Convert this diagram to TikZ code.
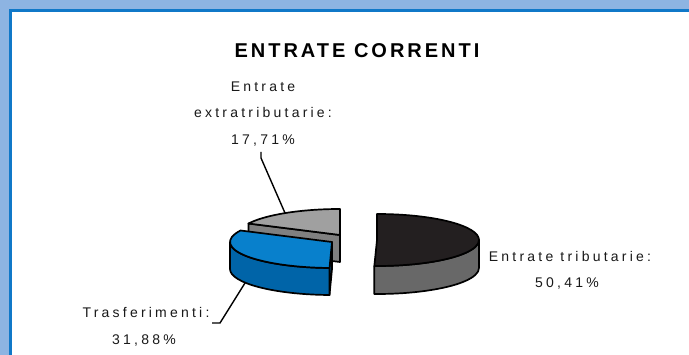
\documentclass[tikz,border=0pt]{standalone}
\usepackage{fontspec}
\setmainfont{Liberation Sans}
\newfontfamily\lblfont[LetterSpace=23]{Liberation Sans}
\newfontfamily\titlefont[LetterSpace=15]{Liberation Sans}
\definecolor{bgblue}{RGB}{141,180,226}
\definecolor{borderblue}{RGB}{16,120,200}
\definecolor{bluetop}{RGB}{8,128,204}
\definecolor{blueside}{RGB}{0,100,168}
\definecolor{graytop}{RGB}{160,160,160}
\definecolor{grayside}{RGB}{128,128,128}
\definecolor{darktop}{RGB}{35,31,32}
\definecolor{darkside}{RGB}{104,104,104}
\tikzset{
  slice/.style={draw=black, line width=1.7pt, line join=round},
  lbl/.style={anchor=base, inner sep=0pt, font=\lblfont\fontsize{14}{16}\selectfont, text=black!90},
  leader/.style={draw=black, line width=1.4pt}
}
\begin{document}
\begin{tikzpicture}[x=1pt,y=-1pt]
\useasboundingbox (0,0) rectangle (689,355);
% frame
\fill[bgblue] (0,0) rectangle (689,355);
\fill[white] (10.5,10.5) rectangle (689,355);
\draw[borderblue, line width=3pt] (10.5,355) -- (10.5,10.5) -- (689,10.5);
% title
\node[anchor=base, inner sep=0pt, font=\titlefont\bfseries\fontsize{20}{22}\selectfont] (title) at (357,57.5) {ENTRATE CORRENTI};
% gray slice (extratributarie)
\fill[slice, fill=grayside] (340,235) -- (248.5,223.5) -- (248.5,250.5) -- (340,262) -- cycle;
\fill[slice, fill=graytop] (340,235) -- (340,209) arc[start angle=-90, end angle=-153.8, x radius=102, y radius=26] -- cycle;
% blue slice (trasferimenti)
\fill[slice, fill=blueside] (332,242) -- (329.5,268) -- (329.5,295) -- (332,269) -- cycle;
\fill[slice, fill=blueside] (230,242) arc[start angle=180, end angle=91.4, x radius=102, y radius=26] -- ++(0,27) arc[start angle=91.4, end angle=180, x radius=102, y radius=26] -- cycle;
\fill[slice, fill=bluetop] (332,242) -- (240.5,230.5) arc[start angle=206.2, end angle=91.4, x radius=102, y radius=26] -- cycle;
% dark slice (tributarie)
\fill[slice, fill=darkside] (479,240) arc[start angle=0, end angle=91.5, x radius=102, y radius=26] -- ++(0,28) arc[start angle=91.5, end angle=0, x radius=102, y radius=26] -- cycle;
\fill[slice, fill=darktop] (377,240) -- (377,214) arc[start angle=-90, end angle=91.5, x radius=102, y radius=26] -- cycle;
% labels
\node[lbl] (ext1) at (263,92) {Entrate};
\node[lbl] (ext2) at (263,118) {extratributarie:};
\node[lbl] (ext3) at (263,145) {17,71\%};
\node[lbl] (tri1) at (570,262) {Entrate tributarie:};
\node[lbl] (tri2) at (567,288) {50,41\%};
\node[lbl] (tra1) at (146,318) {Trasferimenti:};
\node[lbl] (tra2) at (144,345) {31,88\%};
% leaders
\coordinate (extA) at (261,152);
\coordinate (extB) at (261,158);
\coordinate (extC) at (285,213);
\coordinate (traA) at (212,323);
\coordinate (traB) at (220,323);
\coordinate (traC) at (245,283);
\draw[leader] (extA) -- (extB) -- (extC);
\draw[leader] (traA) -- (traB) -- (traC);
\end{tikzpicture}
\end{document}
